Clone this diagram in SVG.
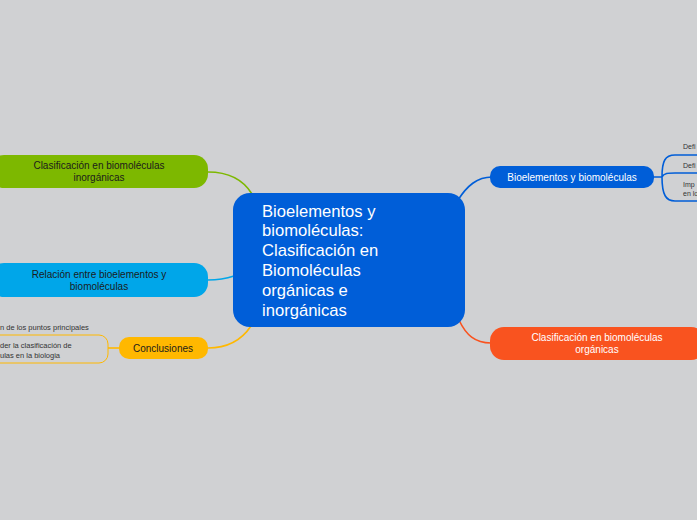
<svg xmlns="http://www.w3.org/2000/svg" width="697" height="520" viewBox="0 0 697 520">
<style>
text{font-family:"Liberation Sans",Arial,sans-serif}
.t10{font-size:10px;text-anchor:middle}
.dark{fill:#1b1b1b}
.white{fill:#ffffff}
.small{font-size:7px;fill:#333}
.ls{font-size:7.5px}
.big{font-size:16.6px;fill:#ffffff}
.con{fill:none;stroke-width:1.6}
</style>
<rect x="0" y="0" width="697" height="520" fill="#d0d1d3"/>
<g id="connectors">
<path class="con" stroke="#7db800" d="M208,172 C230,172 244,181 252,194"/>
<path class="con" stroke="#00a6e9" d="M208,280 Q222,280 234,276"/>
<path class="con" stroke="#ffb800" d="M251,326 C241,341 226,348 208,348"/>
<path class="con" stroke="#005ed8" d="M458,200 C467,186 477,177 492,177"/>
<path class="con" stroke="#f9531f" d="M459,320 C466,335 475,343 491,343"/>
<path class="con" stroke="#005ed8" stroke-width="1" d="M653,177 L662,177 M662,177 C662,161 665,155 675,155 L697,155 M662,177 C664,173 668,173 675,173 L697,173 M662,177 C662,195 666,201 675,201 L697,201"/>
<path class="con" stroke="#ffb800" stroke-width="1" d="M119,348 L108,348"/>
</g>
<g id="central">
<rect x="233" y="193" width="232" height="134" rx="17" fill="#005ed8"/>
<text class="big" x="262" y="217">Bioelementos y</text>
<text class="big" x="262" y="236">biomoléculas:</text>
<text class="big" x="262" y="256">Clasificación en</text>
<text class="big" x="262" y="276">Biomoléculas</text>
<text class="big" x="262" y="296">orgánicas e</text>
<text class="big" x="262" y="316">inorgánicas</text>
</g>
<g id="bioelementos">
<rect x="490" y="166" width="164" height="22" rx="10" fill="#005ed8"/>
<text class="t10 white" x="572" y="181">Bioelementos y biomoléculas</text>
<text class="small" x="683" y="149">Defi</text>
<text class="small" x="683" y="168">Defi</text>
<text class="small" x="683" y="187">Imp</text>
<text class="small" x="683" y="196">en lo</text>
</g>
<g id="organicas">
<rect x="490" y="327" width="215" height="33" rx="14" fill="#f9531f"/>
<text class="t10 white" x="597" y="341">Clasificación en biomoléculas</text>
<text class="t10 white" x="597" y="353">orgánicas</text>
</g>
<g id="inorganicas">
<rect x="-10" y="155" width="218" height="33" rx="14" fill="#7db800"/>
<text class="t10 dark" x="99" y="169">Clasificación en biomoléculas</text>
<text class="t10 dark" x="99" y="181">inorgánicas</text>
</g>
<g id="relacion">
<rect x="-10" y="263" width="218" height="34" rx="14" fill="#00a6e9"/>
<text class="t10 dark" x="99" y="278">Relación entre bioelementos y</text>
<text class="t10 dark" x="99" y="290">biomoléculas</text>
</g>
<g id="conclusiones">
<rect x="119" y="337" width="89" height="22" rx="10" fill="#ffb800"/>
<text class="t10 dark" x="163" y="352">Conclusiones</text>
<text class="small ls" x="0" y="330">n de los puntos principales</text>
<rect x="-20" y="335" width="128" height="28" rx="9" fill="none" stroke="#ffb800" stroke-width="1"/>
<text class="small ls" x="0" y="348">der la clasificación de</text>
<text class="small ls" x="0" y="358">ulas en la biologia</text>
</g>
</svg>
